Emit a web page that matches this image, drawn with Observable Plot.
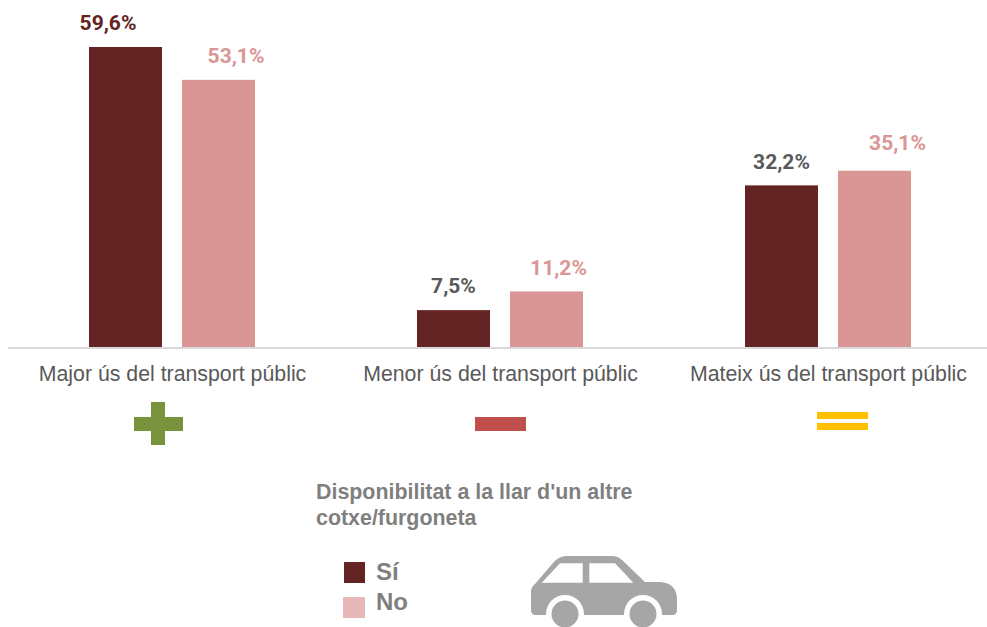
<!DOCTYPE html>
<html>
<head>
<meta charset="utf-8">
<script src="https://cdn.jsdelivr.net/npm/d3@7"></script>
<script src="https://cdn.jsdelivr.net/npm/@observablehq/plot@0.6"></script>
<style>
html,body{margin:0;padding:0;background:#fff;overflow:hidden}
#wrap{position:relative;width:987px;height:627px;overflow:hidden}
#wrap svg{position:absolute;left:0;top:0}
.t{position:absolute;font-family:"Liberation Sans",Arial,sans-serif;font-weight:bold;color:#7f7f7f;white-space:nowrap}
.s{position:absolute}
</style>
</head>
<body>
<div id="wrap"></div>
<script>
const categories = ["Major ús del transport públic", "Menor ús del transport públic", "Mateix ús del transport públic"];
const groups = ["Sí", "No"];
const valuesSi = [59.6, 7.5, 32.2];
const valuesNo = [53.1, 11.2, 35.1];

const barColor = {"Sí": "#632423", "No": "#d99694"};
const rows = categories.flatMap((c, i) => [
  {cat: c, group: "Sí", value: valuesSi[i]},
  {cat: c, group: "No", value: valuesNo[i]}
]);
const fmt = v => v.toFixed(1).replace(".", ",") + "%";
// label colour and nudge per bar, in reading order
const labelFill = ["#632423", "#d99694", "#595959", "#d99694", "#595959", "#d99694"];
const labelDx = [-18, 17, -0.5, 11.5, -0.5, 22.5];
const labelDy = [-24, -24, -24, -24, -23.5, -28];

const plot = Plot.plot({
  width: 987,
  height: 627,
  marginLeft: 8,
  marginRight: -5,
  marginTop: 47,
  marginBottom: 279,
  style: {background: "transparent", overflow: "visible"},
  fx: {domain: categories, padding: 0, label: null, axis: null},
  x: {domain: groups, paddingInner: 0.214, paddingOuter: 0.858, axis: null},
  y: {domain: [0, 59.6], axis: null},
  marks: [
    Plot.barY(rows, {fx: "cat", x: "group", y: "value", fill: d => barColor[d.group]}),
    ...rows.map((d, i) => Plot.text([d], {
      fx: "cat", x: "group", y: "value", text: r => fmt(r.value),
      dx: labelDx[i], dy: labelDy[i], fill: labelFill[i],
      fontFamily: "Roboto", fontWeight: 700, fontSize: 21
    })),
    Plot.axisFx({
      anchor: "bottom", tickSize: 0, tickPadding: 17.5, label: null,
      fontFamily: "Liberation Sans", fontSize: 21.3, fill: "#595959"
    })
  ]
});
const wrap = document.getElementById("wrap");
wrap.appendChild(plot);

// baseline rule, icons and legend sit outside the scales
const html = `
<div class="s" style="left:8px;top:347px;width:979px;height:2px;background:#d9d9d9"></div>
<div class="s" style="left:134px;top:417px;width:49px;height:14px;background:#77933c"></div>
<div class="s" style="left:151px;top:402px;width:14px;height:43px;background:#77933c"></div>
<div class="s" style="left:475px;top:417px;width:51px;height:14px;background:#c0504d"></div>
<div class="s" style="left:817px;top:412px;width:51px;height:7px;background:#ffc000"></div>
<div class="s" style="left:817px;top:423px;width:51px;height:7px;background:#ffc000"></div>
<div class="t" style="left:316px;top:480px;font-size:21.4px;line-height:25.5px">Disponibilitat a la llar d'un altre<br>cotxe/furgoneta</div>
<div class="s" style="left:344px;top:562px;width:21px;height:21px;background:#632423"></div>
<div class="s" style="left:343px;top:597px;width:22px;height:21px;background:#e6b8b7"></div>
<div class="t" style="left:376px;top:559px;font-size:24px;line-height:25px">Sí</div>
<div class="t" style="left:376px;top:589px;font-size:24px;line-height:25px">No</div>
<svg width="987" height="627" style="pointer-events:none">
<path fill="#a6a6a6" d="M531 592 Q531 587 535 584 L553 563 Q559 556 566 556 L612 556 Q618 556 622 560 L645 582 L660 582 Q677 583 677 600 L677 610 Q677 615 672 615 L536 615 Q531 615 531 610 Z"/>
<path fill="#fff" d="M541.7 582.7 L560 563.3 L582.7 563.3 L582.7 582.7 Z M589.3 563.3 L615 563.3 L633.3 582.7 L589.3 582.7 Z"/>
<circle cx="565" cy="614" r="19" fill="#fff"/><circle cx="565" cy="614" r="13.5" fill="#a6a6a6"/>
<circle cx="643" cy="614" r="19" fill="#fff"/><circle cx="643" cy="614" r="13.5" fill="#a6a6a6"/>
</svg>`;
wrap.insertAdjacentHTML("beforeend", html);
</script>
</body>
</html>
